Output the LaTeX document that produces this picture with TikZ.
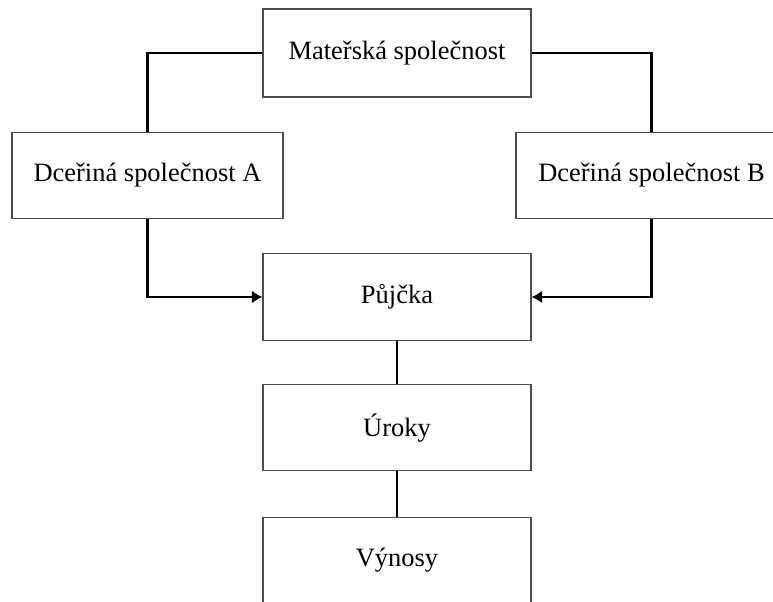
\documentclass[tikz,border=0pt]{standalone}
\usepackage{fontspec}
\setmainfont{Liberation Serif}
\usetikzlibrary{arrows.meta}
\tikzset{
    box/.style={draw=black!70, line width=0.9pt, fill=white, inner sep=0pt,
        minimum width=8.04cm, minimum height=2.6cm,
        font=\fontsize{22.6}{27}\selectfont},
    link/.style={draw=black, line width=2.2pt},
    flow/.style={link, -{Latex[length=9pt,width=11pt]}}
}
\begin{document}
\begin{tikzpicture}
    \clip (0,0) rectangle (23.19,-18.03);
    \fill[white] (0,0) rectangle (23.19,-18.03);

    \node[box, minimum height=2.64cm] (mat) at (11.91,-1.59) {Mateřská společnost};
    \node[box, minimum width=8.13cm] (A) at (4.425,-5.265) {Dceřiná společnost A};
    \node[box, minimum width=8.13cm] (B) at (19.545,-5.265) {Dceřiná společnost B};
    \node[box] (loan) at (11.91,-8.91) {Půjčka};
    \node[box] (uroky) at (11.91,-12.825) {Úroky};
    \node[box] (vynosy) at (11.91,-16.815) {Výnosy};

    % mother to daughters
    \draw[link] (mat.west) -| (A.north);
    \draw[link] (mat.east) -| (B.north);

    % daughters to loan
    \draw[flow] (A.south) |- (loan.west);
    \draw[flow] (B.south) |- (loan.east);

    \draw[link] (loan) -- (uroky);
    \draw[link] (uroky) -- (vynosy);
\end{tikzpicture}
\end{document}
